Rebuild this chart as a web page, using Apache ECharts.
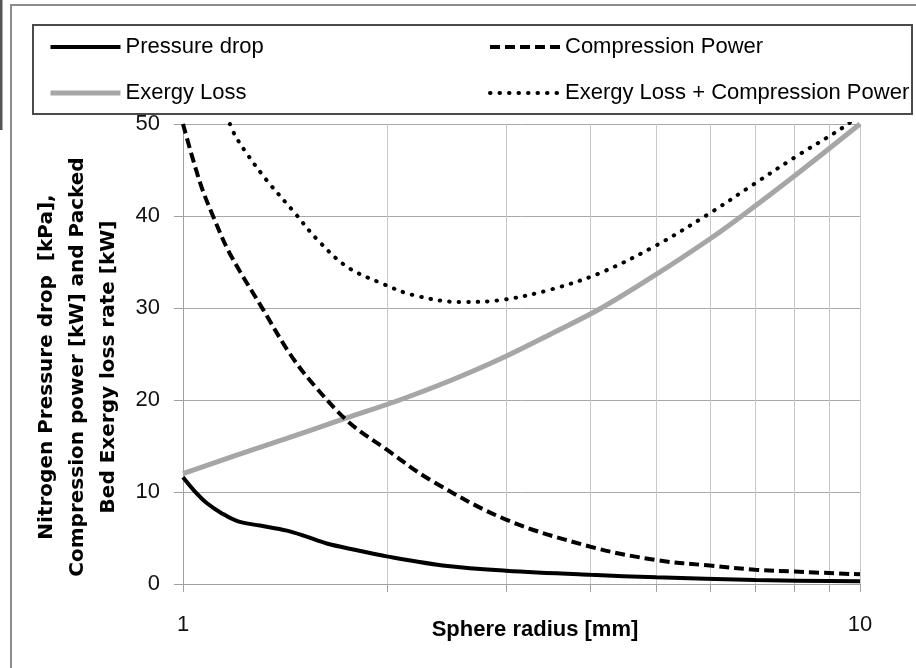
<!DOCTYPE html>
<html>
<head>
<meta charset="utf-8">
<script src="https://cdn.jsdelivr.net/npm/echarts@6/dist/echarts.min.js"></script>
<style>
  html, body { margin: 0; padding: 0; background: #ffffff; }
  #chart { width: 916px; height: 668px; }
</style>
</head>
<body>
<div id="chart"></div>
<script>
// Sphere radius [mm] and the curves sampled along it
const pressureDropRadius = [1, 1.04, 1.084, 1.14, 1.206, 1.3, 1.424, 1.515, 1.63, 1.8, 2, 2.46, 3, 4, 5, 7, 10];
const pressureDrop       = [11.6, 10.1, 8.8, 7.7, 6.8, 6.35, 5.8, 5.2, 4.4, 3.7, 3.0, 1.95, 1.45, 1.0, 0.73, 0.43, 0.3];

const compressionRadius = [1, 1.06, 1.109, 1.173, 1.314, 1.439, 1.562, 1.763, 2, 2.32, 3, 4, 5, 6, 7, 8, 10];
const compressionPower  = [50, 43.6, 39.9, 35.9, 29.8, 25.0, 21.6, 17.5, 14.6, 11.3, 7.0, 4.05, 2.6, 2.0, 1.55, 1.35, 1.05];

const exergyRadius = [1, 1.2, 1.42, 1.735, 2.09, 2.5, 2.94, 3.5, 4.15, 5, 6, 6.69, 8, 10];
const exergyLoss   = [12.0, 14.0, 15.8, 18.0, 20.0, 22.2, 24.45, 27.2, 30.0, 33.65, 37.5, 40.0, 44.35, 50];

const totalRadius = [1.173, 1.193, 1.242, 1.329, 1.464, 1.576, 1.745, 1.977, 2.19, 2.56, 2.94, 3.49, 4.13, 5, 6, 6.95, 8.02, 9.56, 10];
const exergyPlusCompression = [50, 48.8, 46.8, 43.9, 40.3, 37.5, 34.5, 32.6, 31.4, 30.65, 30.85, 32.0, 33.8, 36.8, 40.3, 43.4, 46.4, 49.9, 51.2];

const seriesNames = ['Pressure drop', 'Compression Power', 'Exergy Loss', 'Exergy Loss + Compression Power'];

const xTicks = [1, 2, 3, 4, 5, 6, 7, 8, 9, 10];
const xLabels = [1, 10];

const yTitle = 'Nitrogen Pressure drop  [kPa],\nCompression power [kW] and Packed\nBed Exergy loss rate [kW]';
const xTitle = 'Sphere radius [mm]';

const sans = '"Liberation Sans", Arial, sans-serif';

function pairs(xs, ys) {
  return xs.map((x, i) => [x, ys[i]]);
}

const chart = echarts.init(document.getElementById('chart'), null, { renderer: 'canvas' });

const baseLine = {
  type: 'line',
  symbol: 'none',
  showSymbol: false,
  smooth: 0.35,
  clip: true,
  animation: false
};

const legendCommon = {
  orient: 'vertical',
  top: 36,
  padding: 0,
  itemWidth: 70,
  itemHeight: 20,
  itemGap: 24,
  selectedMode: false,
  itemStyle: { opacity: 0 },
  lineStyle: { width: 'inherit', type: 'inherit', cap: 'inherit' },
  textStyle: { fontFamily: sans, fontSize: 22, color: '#000', lineHeight: 22 }
};

chart.setOption({
  backgroundColor: '#ffffff',
  animation: false,
  grid: { left: 183, right: 56, top: 124, bottom: 84, containLabel: false },
  legend: [
    Object.assign({}, legendCommon, { left: 48, data: [seriesNames[0], seriesNames[2]] }),
    Object.assign({}, legendCommon, { left: 488, data: [seriesNames[1], seriesNames[3]] })
  ],
  xAxis: {
    type: 'log',
    logBase: 10,
    min: 1,
    max: 10,
    name: xTitle,
    nameLocation: 'middle',
    nameGap: 35,
    nameMoveOverlap: false,
    nameTextStyle: { fontFamily: sans, fontWeight: 'bold', fontSize: 22, color: '#000', padding: [0, 0, 0, 27] },
    axisLine: { show: true, onZero: false, lineStyle: { color: '#a0a0a0', width: 1 } },
    axisTick: { show: true, length: 8, customValues: xTicks, lineStyle: { color: '#a0a0a0' } },
    axisLabel: { customValues: xLabels, margin: 30, fontFamily: sans, fontSize: 22, color: '#111' },
    splitLine: { show: true, lineStyle: { color: '#c8c8c8', width: 1 } },
    minorTick: { show: false },
    minorSplitLine: { show: false }
  },
  yAxis: {
    type: 'value',
    min: 0,
    max: 50,
    interval: 10,
    axisLine: { show: true, lineStyle: { color: '#a0a0a0', width: 1 } },
    axisTick: { show: true, length: 9, lineStyle: { color: '#a0a0a0' } },
    axisLabel: { margin: 23, fontFamily: sans, fontSize: 22, color: '#111' },
    splitLine: { show: true, lineStyle: { color: '#a8a8a8', width: 1 } }
  },
  series: [
    Object.assign({}, baseLine, {
      name: seriesNames[2],
      data: pairs(exergyRadius, exergyLoss),
      lineStyle: { color: '#a6a6a6', width: 5 },
      itemStyle: { color: '#a6a6a6' },
      z: 2
    }),
    Object.assign({}, baseLine, {
      name: seriesNames[0],
      data: pairs(pressureDropRadius, pressureDrop),
      lineStyle: { color: '#000000', width: 4 },
      itemStyle: { color: '#000000' },
      z: 3
    }),
    Object.assign({}, baseLine, {
      name: seriesNames[1],
      data: pairs(compressionRadius, compressionPower),
      lineStyle: { color: '#000000', width: 4, type: [10, 5] },
      itemStyle: { color: '#000000' },
      z: 4
    }),
    Object.assign({}, baseLine, {
      name: seriesNames[3],
      data: pairs(totalRadius, exergyPlusCompression),
      lineStyle: { color: '#000000', width: 4, type: [0.5, 9], cap: 'round' },
      itemStyle: { color: '#000000' },
      z: 5
    })
  ],
  graphic: [
    {
      type: 'rect', z: -10, silent: true,
      shape: { x: 11, y: 5, width: 920, height: 680 },
      style: { fill: 'none', stroke: '#8c8c8c', lineWidth: 2 }
    },
    {
      type: 'line', z: -10, silent: true,
      shape: { x1: 1, y1: 0, x2: 1, y2: 130 },
      style: { stroke: '#555555', lineWidth: 3 }
    },
    {
      type: 'rect', z: -5, silent: true,
      shape: { x: 33, y: 25, width: 879, height: 89 },
      style: { fill: '#ffffff', stroke: '#4a4a4a', lineWidth: 2 }
    },
    {
      // rotated y-axis title, three centred lines
      type: 'text', silent: true,
      x: 78, y: 367, rotation: Math.PI / 2,
      style: {
        text: yTitle,
        font: 'bold 20px "DejaVu Sans", sans-serif',
        fill: '#000',
        align: 'center',
        verticalAlign: 'middle',
        lineHeight: 31
      }
    }
  ]
});
</script>
</body>
</html>
